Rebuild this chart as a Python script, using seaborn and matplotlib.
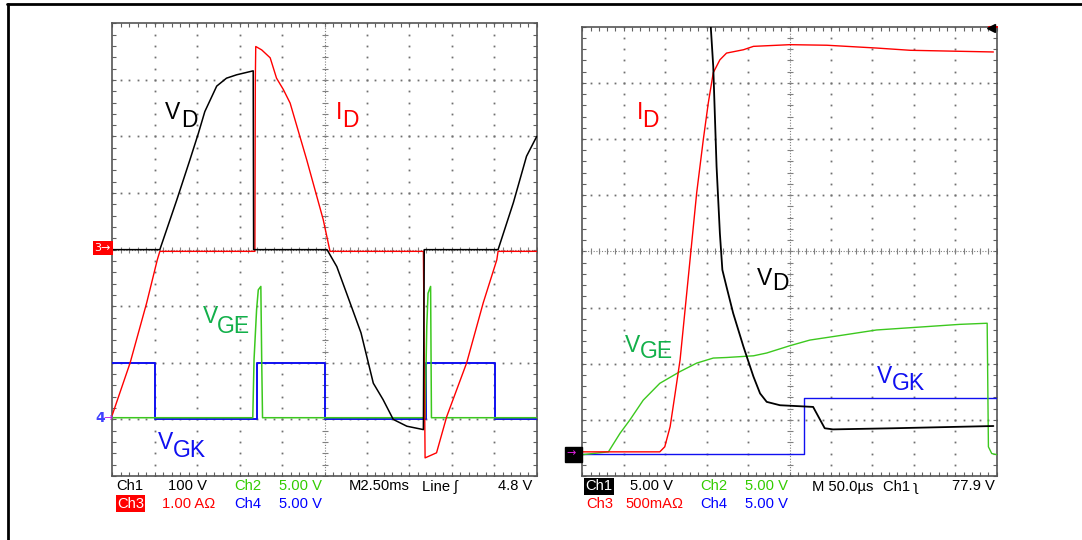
import numpy as np
import matplotlib
matplotlib.use("Agg")
import matplotlib.pyplot as plt
from matplotlib import font_manager
from matplotlib.lines import Line2D
from matplotlib.patches import Rectangle
import seaborn as sns

# traces in screen divisions (x: 0..10, y: -4..4)
# left screen, 2.50 ms/div
L_VD_X = [0, 1.12, 1.52, 1.83, 2.03, 2.18, 2.46, 2.69, 2.93, 3.32, 3.33, 5.06, 5.29, 5.52,
          5.86, 6.15, 6.38, 6.62, 6.94, 7.33, 7.35, 9.09, 9.45, 9.76, 10.0]
L_VD_Y = [0, 0, 0.88, 1.59, 2.06, 2.44, 2.89, 3.03, 3.09, 3.16, 0, 0, -0.30, -0.77,
          -1.47, -2.36, -2.65, -3.0, -3.12, -3.18, 0, 0, 0.83, 1.65, 2.0]
L_ID_X = [0, 0.42, 0.81, 1.06, 1.12, 3.36, 3.37, 3.38, 3.52, 3.72, 3.87, 4.03, 4.19, 4.58,
          4.97, 5.13, 7.33, 7.37, 7.64, 7.88, 8.35, 8.74, 9.06, 9.09, 10.0]
L_ID_Y = [-2.92, -2.0, -0.94, -0.18, -0.03, -0.03, 3.0, 3.59, 3.53, 3.39, 3.03, 2.83, 2.59, 1.59,
          0.53, -0.03, -0.03, -3.68, -3.59, -2.95, -2.0, -0.94, -0.18, -0.03, -0.03]
L_VGE_X = [0, 3.31, 3.34, 3.40, 3.44, 3.50, 3.52, 3.54, 7.37, 7.41, 7.44, 7.50, 7.52, 10.0]
L_VGE_Y = [-2.97, -2.97, -1.94, -1.06, -0.71, -0.65, -1.94, -2.97, -2.97, -1.35, -0.77, -0.65,
           -2.97, -2.97]
L_VGK_X = [0, 1.0, 1.0, 3.40, 3.40, 5.01, 5.01, 7.40, 7.40, 9.02, 9.02, 10.0]
L_VGK_Y = [-2.01, -2.01, -2.99, -2.99, -2.01, -2.01, -2.99, -2.99, -2.01, -2.01, -2.99, -2.99]

# right screen, 50.0 us/div
R_VD_X = [3.08, 3.10, 3.16, 3.24, 3.32, 3.38, 3.48, 3.64, 3.89, 4.13, 4.29, 4.45, 4.77, 5.57,
          5.85, 6.05, 7.50, 9.92]
R_VD_Y = [4.3, 4.0, 3.29, 1.51, 0.32, -0.33, -0.63, -1.10, -1.70, -2.23, -2.53, -2.68, -2.74,
          -2.77, -3.15, -3.17, -3.15, -3.11]
R_ID_X = [0, 1.87, 1.99, 2.12, 2.24, 2.36, 2.48, 2.60, 2.76, 2.92, 3.04, 3.16, 3.32, 3.48, 3.89,
          4.13, 5.01, 5.90, 7.10, 7.91, 9.92]
R_ID_Y = [-3.57, -3.57, -3.48, -3.12, -2.53, -1.93, -1.04, -0.15, 1.04, 1.99, 2.64, 3.18, 3.41,
          3.53, 3.59, 3.65, 3.68, 3.67, 3.62, 3.58, 3.55]
R_VGE_X = [0, 0.63, 0.91, 1.15, 1.47, 1.87, 2.36, 2.76, 3.16, 3.48, 4.13, 4.45, 5.01, 5.49, 6.30,
           7.10, 8.31, 9.11, 9.77, 9.80, 9.88, 10.0]
R_VGE_Y = [-3.62, -3.57, -3.24, -3.0, -2.65, -2.35, -2.14, -1.99, -1.90, -1.89, -1.86, -1.81,
           -1.68, -1.58, -1.49, -1.40, -1.34, -1.30, -1.28, -3.48, -3.60, -3.62]
R_VGK_X = [0, 5.35, 5.35, 10.0]
R_VGK_Y = [-3.61, -3.61, -2.61, -2.61]

# readout lines under each screen: (text, colour)
L_ROW1 = [("Ch1", "k"), ("100 V", "k"), ("Ch2", "#33cc00"), ("5.00 V", "#33cc00"),
          ("M2.50ms", "k"), ("Line \u0283", "k"), ("4.8 V", "k")]
L_ROW2 = [("Ch3", "w"), ("1.00 A\u03a9", "red"), ("Ch4", "blue"), ("5.00 V", "blue")]
R_ROW1 = [("Ch1", "w"), ("5.00 V", "k"), ("Ch2", "#33cc00"), ("5.00 V", "#33cc00"),
          ("M 50.0\u00b5s", "k"), ("Ch1 \u0285", "k"), ("77.9 V", "k")]
R_ROW2 = [("Ch3", "red"), ("500mA\u03a9", "red"), ("Ch4", "blue"), ("5.00 V", "blue")]

RED, GREEN, BLUE = "#ff0000", "#3cc81e", "#1010f0"
LBL_GREEN = "#12b04a"

W, H = 1082, 540


def fx(px):
    return px / W


def fy(py):
    return 1 - py / H


def screen(ax):
    ax.set_xlim(0, 10)
    ax.set_ylim(-4, 4)
    fine_y = np.arange(-4, 4.001, 0.2)
    fine_x = np.arange(0, 10.001, 0.2)
    for gx in range(1, 10):
        if gx == 5:
            continue
        ax.plot([gx] * len(fine_y), fine_y, ls="none", marker="s", ms=1.3, mew=0, color="#707070", zorder=1)
    for gy in [-3, -2, -1, 1, 2, 3]:
        ax.plot(fine_x, [gy] * len(fine_x), ls="none", marker="s", ms=1.3, mew=0, color="#707070", zorder=1)
    # centre axes: dense dots and small ticks
    ax.axvline(5, color="#808080", lw=0.8, ls=(0, (1, 1.5)), zorder=1)
    ax.axhline(0, color="#808080", lw=0.8, ls=(0, (1, 1.5)), zorder=1)
    ax.plot([5] * len(fine_y), fine_y, ls="none", marker="_", ms=5, mew=0.8, color="#808080", zorder=1)
    ax.plot(fine_x, [0] * len(fine_x), ls="none", marker="|", ms=5, mew=0.8, color="#808080", zorder=1)
    ax.set_xticks(fine_x)
    ax.set_yticks(fine_y)
    ax.tick_params(direction="in", length=3, width=0.8, color="#606060", top=True, right=True,
                   labelbottom=False, labelleft=False, bottom=True, left=True)
    ax.grid(False)
    for s in ax.spines.values():
        s.set_color("#555555")
        s.set_linewidth(1.2)
        s.set_visible(True)


def trace(ax, xs, ys, color, lw=1.0):
    sns.lineplot(x=xs, y=ys, ax=ax, color=color, lw=lw, sort=False, estimator=None, zorder=3)


def label(ax, main, sub, x1, y1, x2, y2, color):
    ax.text(x1, y1, main, color=color, fontsize=16.5, va="baseline", ha="left", zorder=5)
    ax.text(x2, y2, sub, color=color, fontsize=16.5, va="baseline", ha="left", zorder=5)


def readout(fig, items, xs, y, fam, boxed=None):
    for i, ((t, c), x) in enumerate(zip(items, xs)):
        kw = {}
        if boxed is not None and i == 0:
            kw["bbox"] = dict(boxstyle="square,pad=0.1", fc=boxed, ec="none")
        fig.text(fx(x), fy(y), t, color=c, fontsize=10.6, family=fam, va="baseline", ha="left", **kw)


def main():
    sns.set_style("white")
    names = {f.name for f in font_manager.fontManager.ttflist}
    plt.rcParams["font.family"] = ["Liberation Sans", "DejaVu Sans"]
    fam = [n for n in ["Liberation Sans Narrow"] if n in names] + ["Liberation Sans", "DejaVu Sans"]

    fig = plt.figure(figsize=(W / 100, H / 100), dpi=100)
    axl = fig.add_axes([fx(112.3), fy(476), fx(536.7) - fx(112.3), fy(23.3) - fy(476)])
    axr = fig.add_axes([fx(582.3), fy(476), fx(996.7) - fx(582.3), fy(26.7) - fy(476)])
    for ax in (axl, axr):
        screen(ax)

    trace(axl, L_VGK_X, L_VGK_Y, BLUE, 1.4)
    trace(axl, L_VGE_X, L_VGE_Y, GREEN, 1.1)
    trace(axl, L_ID_X, L_ID_Y, RED, 1.0)
    trace(axl, L_VD_X, L_VD_Y, "black", 1.1)

    trace(axr, R_VGK_X, R_VGK_Y, BLUE, 1.0)
    trace(axr, R_VGE_X, R_VGE_Y, GREEN, 1.0)
    trace(axr, R_ID_X, R_ID_Y, RED, 1.0)
    trace(axr, R_VD_X, R_VD_Y, "black", 1.3)

    label(axl, "V", "D", 1.24, 2.30, 1.62, 2.17, "black")
    label(axl, "I", "D", 5.27, 2.30, 5.41, 2.17, RED)
    label(axl, "V", "GE", 2.14, -1.29, 2.47, -1.47, LBL_GREEN)
    label(axl, "V", "GK", 1.08, -3.53, 1.43, -3.66, BLUE)

    label(axr, "I", "D", 1.32, 2.35, 1.44, 2.22, RED)
    label(axr, "V", "D", 4.21, -0.60, 4.58, -0.69, "black")
    label(axr, "V", "GE", 1.03, -1.79, 1.39, -1.90, LBL_GREEN)
    label(axr, "V", "GK", 7.11, -2.34, 7.47, -2.47, BLUE)

    # readouts
    readout(fig, L_ROW1, [116, 168.3, 234, 279, 348.3, 421.7, 498.3], 490.5, fam)
    readout(fig, L_ROW2, [117, 161.7, 234, 279], 507.5, fam, boxed=RED)
    readout(fig, R_ROW1, [585, 630, 700.7, 745, 811.7, 883.3, 951.7], 490.5, fam, boxed="black")
    readout(fig, R_ROW2, [586, 625.7, 700.7, 745], 507.5, fam)

    # channel ground markers
    fig.text(fx(94.5), fy(248), "3\u2192", color="white", fontsize=8, family="DejaVu Sans",
             va="center", ha="left", bbox=dict(boxstyle="square,pad=0.15", fc=RED, ec="none"))
    fig.text(fx(95), fy(417.5), "4", color="#4040ff", fontsize=10, family="DejaVu Sans",
             va="center", ha="left", fontweight="bold")
    fig.text(fx(103), fy(418), "\u2192", color="#c020e0", fontsize=8, family="DejaVu Sans",
             va="center", ha="left")
    fig.add_artist(Rectangle((fx(565), fy(462)), fx(17), 15 / H, color="black", transform=fig.transFigure))
    fig.text(fx(566), fy(453.5), "\u2192", color="#e020e0", fontsize=8, family="DejaVu Sans",
             va="center", ha="left")
    # trigger level marker
    axr.plot([9.82, 10.0], [4.0, 4.0], color=RED, lw=1.5, clip_on=False, zorder=6)
    axr.plot([9.86], [3.98], marker="<", ms=6, color="black", clip_on=False, zorder=7)

    # outer frame
    fig.add_artist(Line2D([fx(7), 1.0], [fy(4), fy(4)], color="black", lw=2, transform=fig.transFigure))
    fig.add_artist(Line2D([fx(8), fx(8)], [fy(4), 0.0], color="black", lw=2, transform=fig.transFigure))

    fig.savefig("out.png", dpi=100, facecolor="white")


if __name__ == "__main__":
    main()
